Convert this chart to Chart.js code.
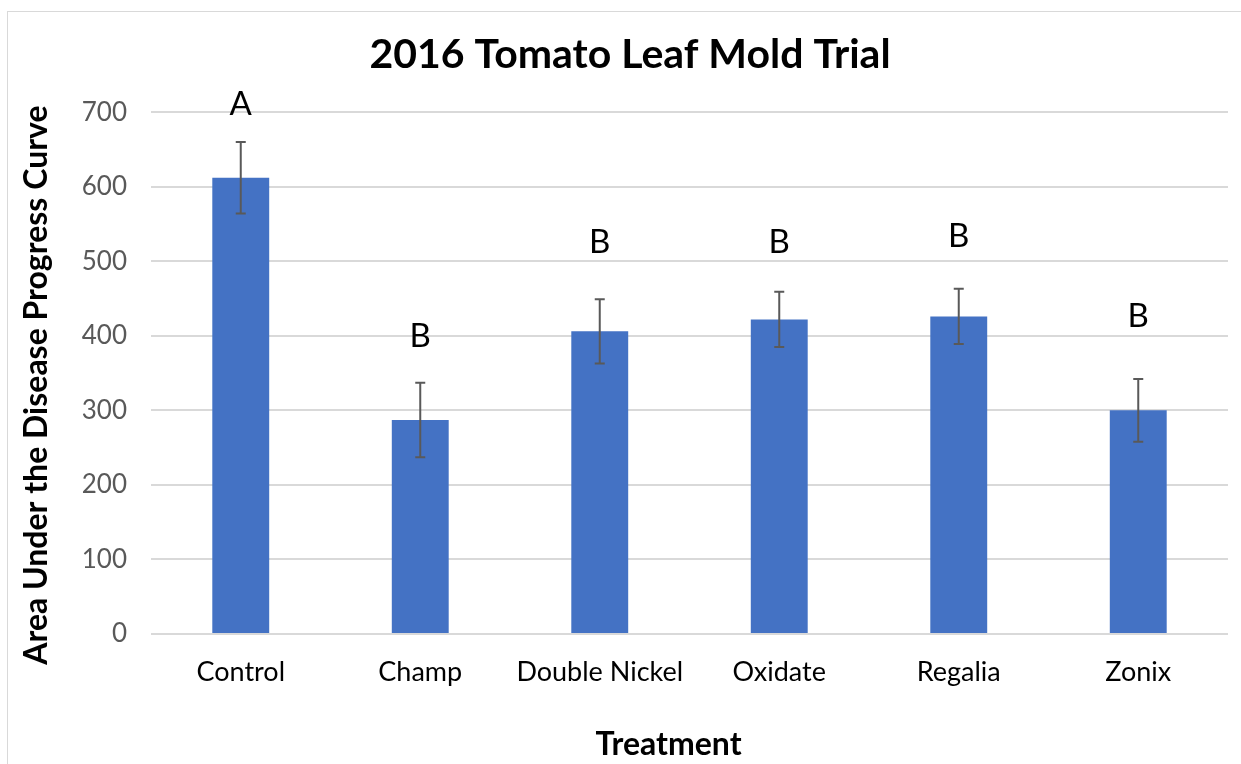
<!DOCTYPE html>
<html>
<head>
<meta charset="utf-8">
<script src="https://cdn.jsdelivr.net/npm/chart.js@4.4.1/dist/chart.umd.min.js"></script>
<style>
  html, body { margin: 0; padding: 0; background: #fff; }
  #wrap { position: relative; width: 1241px; height: 764px; }
  #frame { position: absolute; left: 7px; top: 11px; width: 1250px; height: 800px; border: 1px solid #d9d9d9; }
  canvas { position: absolute; left: 0; top: 0; }
</style>
</head>
<body>
<div id="wrap">
  <div id="frame"></div>
  <canvas id="moldChart" width="1241" height="764"></canvas>
</div>
<script>
// dane z wykresu
const treatments = ['Control', 'Champ', 'Double Nickel', 'Oxidate', 'Regalia', 'Zonix'];
const audpc = [612, 287, 406, 422, 426, 300];
const stdErr = [48, 50, 43, 37, 37, 42];
const groupLetters = ['A', 'B', 'B', 'B', 'B', 'B'];
const letterLevel = [711, 399, 526, 525, 533, 426]; // wysokość liter w jednostkach osi Y
const yTicks = [0, 100, 200, 300, 400, 500, 600, 700];
const xTitle = 'Treatment';
const yTitle = 'Area Under the Disease Progress Curve';

const FONT = 'Lato, "Open Sans", sans-serif';

// słupki błędów + litery grup + tytuły osi
const errorBarsPlugin = {
    id: 'errorBars',
    afterDatasetsDraw(chart) {
        const ctx = chart.ctx;
        const meta = chart.getDatasetMeta(0);
        const yScale = chart.scales.y;
        ctx.save();
        ctx.strokeStyle = '#595959';
        ctx.lineWidth = 2;
        meta.data.forEach((bar, i) => {
            const x = bar.x;
            const top = yScale.getPixelForValue(audpc[i] + stdErr[i]);
            const bottom = yScale.getPixelForValue(audpc[i] - stdErr[i]);
            ctx.beginPath();
            ctx.moveTo(x, top); ctx.lineTo(x, bottom);
            ctx.moveTo(x - 5, top); ctx.lineTo(x + 5, top);
            ctx.moveTo(x - 5, bottom); ctx.lineTo(x + 5, bottom);
            ctx.stroke();
        });
        ctx.fillStyle = '#000';
        ctx.font = '33px ' + FONT;
        ctx.textAlign = 'center';
        ctx.textBaseline = 'middle';
        meta.data.forEach((bar, i) => {
            ctx.fillText(groupLetters[i], bar.x, yScale.getPixelForValue(letterLevel[i]));
        });
        const area = chart.chartArea;
        // tytuł osi X (w oryginale lekko przesunięty w lewo)
        ctx.font = 'bold 32px ' + FONT;
        ctx.fillText(xTitle, (area.left + area.right) / 2 - 21, 745);
        // tytuł osi Y (w oryginale lekko niżej niż środek osi)
        ctx.translate(37, (area.top + area.bottom) / 2 + 12);
        ctx.rotate(-Math.PI / 2);
        ctx.fillText(yTitle, 0, 0);
        ctx.restore();
    }
};

const ctx = document.getElementById('moldChart').getContext('2d');
const myChart = new Chart(ctx, {
    type: 'bar',
    data: {
        labels: treatments,
        datasets: [{
            data: audpc,
            backgroundColor: '#4472c4',
            borderWidth: 0,
            categoryPercentage: 1,
            barPercentage: 0.317
        }]
    },
    options: {
        responsive: false,
        animation: false,
        layout: { padding: { left: 19, right: 0, top: 0, bottom: 0 } },
        plugins: {
            legend: { display: false },
            tooltip: { enabled: false },
            title: {
                display: true,
                text: '2016 Tomato Leaf Mold Trial',
                color: '#000',
                font: { family: FONT, size: 41, weight: 'bold', lineHeight: 1.2 },
                padding: { top: 30, bottom: 33 }
            }
        },
        scales: {
            x: {
                grid: { display: false, drawTicks: false },
                border: { display: false },
                ticks: { color: '#000', font: { family: FONT, size: 27 }, padding: 22, maxRotation: 0 },
                afterFit(scale) { scale.height = 130; }
            },
            y: {
                min: 0,
                max: 700,
                afterBuildTicks(scale) { scale.ticks = yTicks.map(v => ({ value: v })); },
                grid: { color: '#d9d9d9', lineWidth: 2, drawTicks: false },
                border: { display: false },
                ticks: { color: '#595959', font: { family: FONT, size: 26 }, padding: 24 },
                afterFit(scale) { scale.width = 132; }
            },
            yRight: {
                position: 'right',
                display: true,
                grid: { display: false, drawTicks: false },
                border: { display: false },
                ticks: { display: false },
                afterFit(scale) { scale.width = 13; }
            }
        }
    },
    plugins: [errorBarsPlugin]
});
</script>
</body>
</html>
